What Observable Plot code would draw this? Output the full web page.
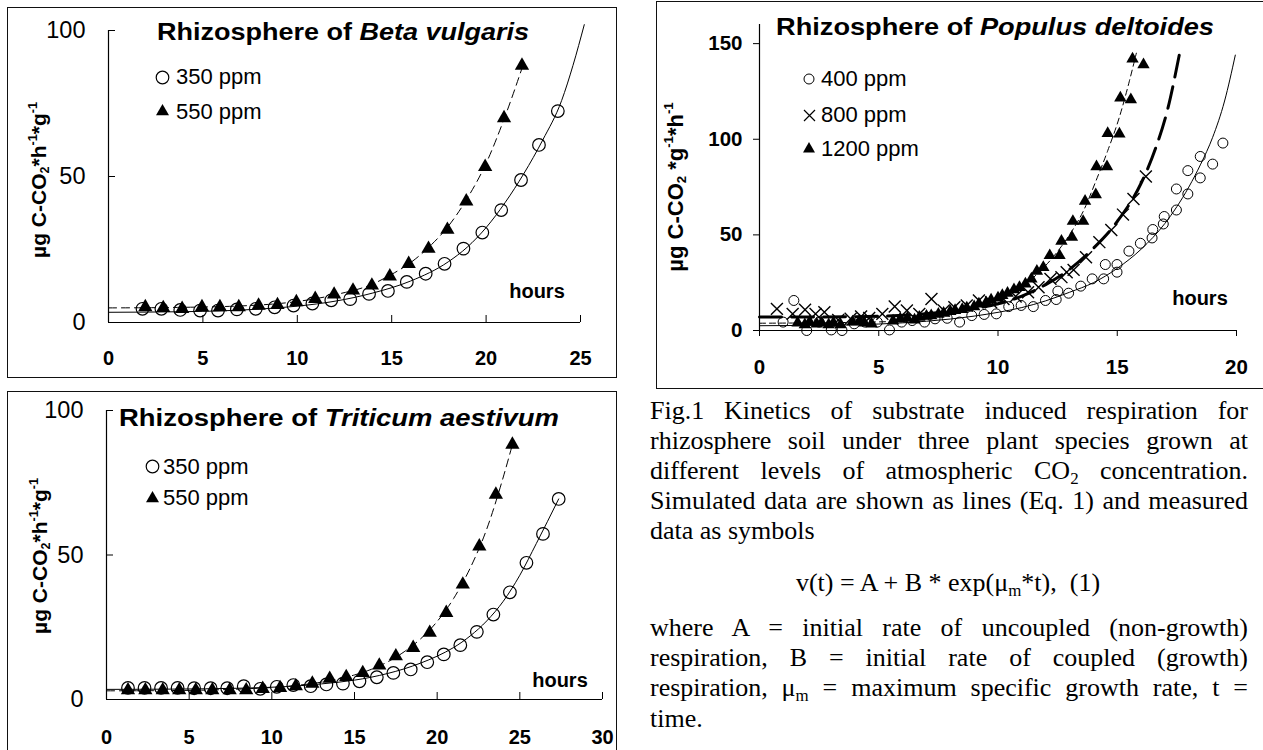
<!DOCTYPE html>
<html><head><meta charset="utf-8">
<script src="https://cdn.jsdelivr.net/npm/d3@7"></script>
<script src="https://cdn.jsdelivr.net/npm/@observablehq/plot@0.6"></script>
<style>
html,body{margin:0;padding:0;background:#fff;overflow:hidden;}
#page{position:relative;width:1263px;height:750px;overflow:hidden;font-family:"Liberation Sans",Arial,sans-serif;color:#000;}
.box{position:absolute;border:1.5px solid #111;box-sizing:border-box;}
.t{position:absolute;white-space:nowrap;line-height:1;}
.sp{font-size:0.6em;position:relative;top:-0.75em;}
.sb{font-size:0.6em;position:relative;top:0.2em;}
.cap{position:absolute;left:650px;width:598px;font-family:"Liberation Serif","Times New Roman",serif;font-size:26px;line-height:30px;white-space:nowrap;}
.j{text-align:justify;text-align-last:justify;}
.csb{font-size:0.65em;position:relative;top:0.3em;}
</style></head><body><div id="page"></div>
<script>
// ---------- Panel A: Rhizosphere of Beta vulgaris ----------
const betaXTicks = [0,5,10,15,20,25];
const betaYTicks = [0,50,100];
const beta350T = [1.8,2.8,3.8,4.85,5.8,6.8,7.8,8.8,9.8,10.8,11.8,12.8,13.8,14.8,15.8,16.8,17.8,18.8,19.8,20.8,21.85,22.8,23.8];
const beta350V = [4.7,4.7,4.3,4.1,4.1,4.5,4.7,5.2,5.8,6.5,7.6,8.0,9.8,10.8,13.9,16.7,20.1,25.3,30.8,38.5,48.8,60.8,72.4];
const beta550T = [1.95,2.9,3.9,4.95,5.9,6.9,7.95,8.95,9.95,10.95,11.95,12.95,13.95,14.9,15.9,16.95,17.95,18.95,19.95,20.95,21.9];
const beta550V = [5.3,5.0,4.7,5.3,5.3,5.3,5.8,6.0,7.0,8.1,9.6,11.0,12.7,15.8,20.1,25.3,31.8,41.5,53.3,70.0,88.0];
const beta350FitT = [0,4,8,10,12,14,16,18,19,20,21,22,23,24,24.6,25.2];
const beta350FitV = [3.5,3.7,4.6,5.6,7.3,10.1,14.2,20.8,25.8,32.5,41,51,62.5,76,88,102];
const beta550FitT = [0,4,8,10,12,14,15,16,17,18,19,20,21,21.95];
const beta550FitV = [5.0,5.2,6.0,7.2,9.5,13.2,16.5,20.5,26,33,42.5,54.5,70.5,88];

// ---------- Panel B: Rhizosphere of Populus deltoides ----------
const popXTicks = [0,5,10,15,20];
const popYTicks = [0,50,100,150];
const pop400T = [0.99,1.44,1.98,2.5,3.01,3.46,3.97,4.42,4.94,5.45,5.96,6.4,6.92,7.36,7.87,8.39,8.9,9.42,9.93,10.45,10.97,11.48,11.99,12.44,12.51,12.96,13.47,13.95,14.43,14.5,14.99,14.99,15.49,15.97,16.46,16.49,16.93,16.97,17.48,17.48,17.96,17.96,18.48,18.48,19.0,19.43];
const pop400V = [4.4,15.7,0,4.4,0.3,0,3.5,4.4,4.4,0.3,4.4,5.2,4.4,6.1,6.4,4.4,7.8,8.4,8.7,12.5,13.1,12.5,15.7,16.2,20.6,19.5,23.2,27,27,34.5,30.5,34.5,41.5,45.6,48.4,52.8,55.7,59.6,63,74,71.4,83.6,79.8,91,87,98];
const pop800T = [0.73,1.39,1.91,2.35,2.72,3.3,3.82,4.26,4.6,5.15,5.67,6.18,6.7,7.21,7.73,8.17,8.69,9.2,9.71,10.23,10.74,11.26,11.7,12.2,12.66,12.88,13.17,13.69,14.25,14.75,15.24,15.68,16.2];
const pop800V = [11.3,8.7,10.8,8.7,9.6,5.5,6.1,7.3,6.5,8.7,12.5,10.5,8.7,16.5,10.5,12.2,13.1,15.7,14.8,16.5,17.8,20,22.6,27,27.9,30.5,31.7,38.3,46.2,52.6,60.6,68.8,80.5];
const pop1200T = [1.6,1.9,2.1,2.4,2.6,2.9,3.1,3.4,3.9,4.2,4.4,4.7,5.6,5.9,6.2,6.5,6.7,7.0,7.2,7.5,7.72,8.0,8.2,8.5,8.69,9.0,9.2,9.5,9.71,10.0,10.18,10.4,10.67,10.9,11.15,11.4,11.63,11.9,12.17,12.58,12.66,13.1,13.14,13.57,13.65,14.1,14.13,14.57,14.6,15.09,15.13,15.57,15.64,16.1];
const pop1200V = [4,3,4.5,3.5,4,3,4,3,4.5,5,4,3.5,5,6,6.5,5.5,7,7.5,7.8,8.5,9.1,10,10.5,11,11.8,12.5,13.9,14.5,16,17,18.3,19.5,21.3,22.5,24.4,27,31,33,39.2,39.2,46.7,48.8,57.1,57.1,67.6,71,85.7,85.7,103,102.8,121.6,120.7,142,139];
const pop400FitT = [0,4,6,8,10,11,12,13,14,15,16,17,18,18.5,19,19.5,19.95];
const pop400FitV = [2.5,3,4,6,9.5,12,15.5,20,25,32.5,42.5,56,75,87,101,120,144];
const pop800FitT = [0,4,7,9,10,11,12,13,14,15,16,16.6,17.1,17.6];
const pop800FitV = [7,7.2,8.8,11.5,14,18,24,32,43,57,77,95,115,144];
const pop1200FitT = [0,5,7,8,9,10,11,12,12.6,13.1,13.6,14.1,14.6,15.1,15.5,15.8];
const pop1200FitV = [3.8,4.5,6.5,9,12.5,16.5,23,34,43,52,63,78,94,112,130,145];

// ---------- Panel C: Rhizosphere of Triticum aestivum ----------
const tritXTicks = [0,5,10,15,20,25,30];
const tritYTicks = [0,50,100];
const trit350T = [1.3,2.3,3.3,4.3,5.3,6.3,7.3,8.3,9.3,10.3,11.3,12.35,13.3,14.3,15.3,16.35,17.35,18.4,19.4,20.4,21.4,22.4,23.4,24.4,25.4,26.4,27.35];
const trit350V = [4.0,4.0,4.0,4.0,3.9,3.9,3.9,4.6,3.7,4.4,5.0,4.6,5.2,5.5,6.3,7.7,9.2,10.4,12.9,15.6,18.8,23.4,29.4,37.1,47.3,57.3,69.4];
const trit550T = [1.3,2.35,3.4,4.4,5.4,6.4,7.45,8.45,9.45,10.5,11.45,12.45,13.5,14.5,15.5,16.5,17.5,18.55,19.55,20.55,21.55,22.55,23.55,24.55];
const trit550V = [3.2,3.2,3.2,3.2,3.2,3.2,3.2,3.2,3.7,4.0,4.6,5.5,7.2,7.8,9.2,11.8,15.0,17.9,23.1,30.0,39.8,53.0,70.9,88.2];
const trit350FitT = [0,4,8,11,13,15,16,17,18,19,20,21,22,23,24,25,26,27.35];
const trit350FitV = [3.5,3.6,3.9,4.5,5.4,6.7,7.7,9.0,10.6,12.6,15.0,18.0,22.0,27.2,34,43,54,69.4];
const trit550FitT = [0,4,8,11,13,15,16,17,18,19,20,21,22,23,24,24.55];
const trit550FitV = [3.0,3.1,3.6,4.6,6.0,8.5,10.4,13.0,16.5,21,27,35,45.5,59,77,88.2];

const rows = (ts, vs) => ts.map((t, i) => ({t, v: vs[i]}));
const page = document.getElementById("page");
const FONT = "Liberation Sans, Arial, sans-serif";
const baseStyle = {background: "transparent", overflow: "visible", fontFamily: FONT, color: "#000"};

function box(l, t, w, h) {
  const d = document.createElement("div"); d.className = "box";
  Object.assign(d.style, {left: l + "px", top: t + "px", width: w + "px", height: h + "px"});
  page.appendChild(d);
}
function place(svg, l, t) {
  svg.style.position = "absolute"; svg.style.left = l + "px"; svg.style.top = t + "px";
  page.appendChild(svg);
}
function txt(html, x, yc, size, opts = {}) {
  const d = document.createElement("div"); d.className = "t"; d.innerHTML = html;
  d.style.fontSize = size + "px"; d.style.fontWeight = opts.weight || "normal";
  d.style.left = x + "px"; d.style.top = (yc - 0.5 * size) + "px";
  if (opts.anchor === "middle") d.style.transform = "translateX(-50%)";
  if (opts.rotate) { d.style.top = yc + "px"; d.style.transform = "translate(-50%,-50%) rotate(-90deg)"; }
  page.appendChild(d);
  if (opts.fitWidth) {
    const w = d.getBoundingClientRect().width;
    d.style.transformOrigin = "left center";
    d.style.transform = `scaleX(${opts.fitWidth / w})`;
  }
  return d;
}
function icon(kind, cx, cy, r, sw = 1.2) {
  const n = Math.ceil(2 * r + 6), c = n / 2;
  let inner = "";
  if (kind === "circle") inner = `<circle cx="${c}" cy="${c}" r="${r}" fill="none" stroke="#000" stroke-width="${sw}"/>`;
  if (kind === "triangle") { const h = r * Math.sqrt(3); inner = `<polygon points="${c},${c - 2*h/3} ${c - r},${c + h/3} ${c + r},${c + h/3}" fill="#000"/>`; }
  if (kind === "times") inner = `<path d="M${c-r},${c-r}L${c+r},${c+r}M${c-r},${c+r}L${c+r},${c-r}" stroke="#000" stroke-width="${sw}"/>`;
  const d = document.createElement("div");
  d.style.position = "absolute"; d.style.left = (cx - c) + "px"; d.style.top = (cy - c) + "px";
  d.innerHTML = `<svg width="${n}" height="${n}" style="display:block">${inner}</svg>`;
  page.appendChild(d);
}

// panel frames
box(6.5, 6.5, 610.5, 371);
box(656, 1, 700, 387.5);
box(6.5, 390.5, 610.5, 400);

// ---------- Panel A ----------
{
  const W = 616, H = 380, mL = 108, mR = 36, mT = 30, mB = 58;
  const iw = W - mL - mR, ih = H - mT - mB;
  const svg = Plot.plot({
    width: W, height: H, marginLeft: mL, marginRight: mR, marginTop: mT, marginBottom: mB,
    x: {domain: [0, 25]}, y: {domain: [0, 100]}, style: baseStyle,
    marks: [
      Plot.ruleX([0], {stroke: "#000", strokeWidth: 1.2}),
      Plot.ruleY([0], {stroke: "#000", strokeWidth: 1.2}),
      Plot.tickY(betaYTicks.filter(d => d > 0), {y: d => d, insetRight: iw - 7, stroke: "#000"}),
      Plot.tickX(betaXTicks.filter(d => d > 0), {x: d => d, insetTop: ih - 7, stroke: "#000"}),
      Plot.axisY({ticks: betaYTicks, tickSize: 0, tickPadding: 23, fontSize: 23.5, label: null}),
      Plot.axisX({ticks: betaXTicks, tickSize: 0, tickPadding: 28, fontSize: 20, fontWeight: "bold", label: null}),
      Plot.line(rows(beta350FitT, beta350FitV), {x: "t", y: "v", curve: "monotone-x", stroke: "#000", strokeWidth: 1}),
      Plot.line(rows(beta550FitT, beta550FitV), {x: "t", y: "v", curve: "monotone-x", stroke: "#000", strokeWidth: 1, strokeDasharray: "8,5"}),
      Plot.dot(rows(beta350T, beta350V), {x: "t", y: "v", r: 6.3, stroke: "#000", fill: "none", strokeWidth: 1.2}),
      Plot.dot(rows(beta550T, beta550V), {x: "t", y: "v", r: 5.3, symbol: "triangle", fill: "#000", stroke: "none"})
    ]
  });
  place(svg, 0, 0);
  txt('Rhizosphere of <i>Beta vulgaris</i>', 157, 32, 23, {weight: "bold", fitWidth: 372});
  icon("circle", 162, 77, 6.3);
  txt('350 ppm', 176, 77, 22);
  icon("triangle", 162, 111, 6.5);
  txt('550 ppm', 176, 111.5, 22);
  txt('hours', 537, 291, 20, {weight: "bold", anchor: "middle"});
  txt('µg C-CO<span class="sb">2</span>*h<span class="sp">-1</span>*g<span class="sp">-1</span>', 38, 180, 21, {weight: "bold", rotate: true});
}

// ---------- Panel B ----------
{
  const W = 606, H = 390, mL = 102, mR = 27, mT = 24, mB = 60;
  const svg = Plot.plot({
    width: W, height: H, marginLeft: mL, marginRight: mR, marginTop: mT, marginBottom: mB,
    x: {domain: [0, 20]}, y: {domain: [0, 160]}, style: baseStyle,
    marks: [
      Plot.ruleX([0], {stroke: "#000", strokeWidth: 1.2}),
      Plot.ruleY([0], {stroke: "#000", strokeWidth: 1.2}),
      Plot.axisY({ticks: popYTicks, tickSize: 6, tickPadding: 11, fontSize: 20.5, fontWeight: "bold", label: null}),
      Plot.axisX({ticks: popXTicks, tickSize: 6, tickPadding: 23, fontSize: 20.5, fontWeight: "bold", label: null}),
      Plot.line(rows(pop400FitT, pop400FitV), {x: "t", y: "v", curve: "monotone-x", stroke: "#000", strokeWidth: 1}),
      Plot.line(rows(pop800FitT, pop800FitV), {x: "t", y: "v", curve: "monotone-x", stroke: "#000", strokeWidth: 3, strokeDasharray: "22,10"}),
      Plot.line(rows(pop1200FitT, pop1200FitV), {x: "t", y: "v", curve: "monotone-x", stroke: "#000", strokeWidth: 1, strokeDasharray: "6,4"}),
      Plot.dot(rows(pop400T, pop400V), {x: "t", y: "v", r: 5, stroke: "#000", fill: "none", strokeWidth: 1}),
      Plot.dot(rows(pop800T, pop800V), {x: "t", y: "v", r: 5.5, symbol: "times", stroke: "#000", strokeWidth: 1.4}),
      Plot.dot(rows(pop1200T, pop1200V), {x: "t", y: "v", r: 4.6, symbol: "triangle", fill: "#000", stroke: "none"})
    ]
  });
  place(svg, 657, 0);
  txt('Rhizosphere of <i>Populus deltoides</i>', 776, 27, 23, {weight: "bold", fitWidth: 438});
  icon("circle", 809, 79, 5, 1);
  txt('400 ppm', 821, 79, 22);
  icon("times", 809, 115, 5.5, 1.2);
  txt('800 ppm', 821, 115, 22);
  icon("triangle", 809, 149, 6);
  txt('1200 ppm', 821, 149, 22);
  txt('hours', 1200, 298, 20, {weight: "bold", anchor: "middle"});
  txt('µg C-CO<span class="sb">2</span> *g<span class="sp">-1</span>*h<span class="sp">-1</span>', 676, 187, 22, {weight: "bold", rotate: true});
}

// ---------- Panel C ----------
{
  const W = 617, H = 360, mL = 106, mR = 15, mT = 20, mB = 51;
  const iw = W - mL - mR, ih = H - mT - mB;
  const svg = Plot.plot({
    width: W, height: H, marginLeft: mL, marginRight: mR, marginTop: mT, marginBottom: mB,
    x: {domain: [0, 30]}, y: {domain: [0, 100]}, style: baseStyle,
    marks: [
      Plot.ruleX([0], {stroke: "#000", strokeWidth: 1.2}),
      Plot.ruleY([0], {stroke: "#000", strokeWidth: 1.2}),
      Plot.tickY(tritYTicks.filter(d => d > 0), {y: d => d, insetRight: iw - 7, stroke: "#000"}),
      Plot.tickX(tritXTicks.filter(d => d > 0), {x: d => d, insetTop: ih - 7, stroke: "#000"}),
      Plot.axisY({ticks: tritYTicks, tickSize: 0, tickPadding: 23, fontSize: 23.5, label: null}),
      Plot.axisX({ticks: tritXTicks, tickSize: 0, tickPadding: 30, fontSize: 20, fontWeight: "bold", label: null}),
      Plot.line(rows(trit350FitT, trit350FitV), {x: "t", y: "v", curve: "monotone-x", stroke: "#000", strokeWidth: 1}),
      Plot.line(rows(trit550FitT, trit550FitV), {x: "t", y: "v", curve: "monotone-x", stroke: "#000", strokeWidth: 1, strokeDasharray: "8,5"}),
      Plot.dot(rows(trit350T, trit350V), {x: "t", y: "v", r: 6.3, stroke: "#000", fill: "none", strokeWidth: 1.2}),
      Plot.dot(rows(trit550T, trit550V), {x: "t", y: "v", r: 5.3, symbol: "triangle", fill: "#000", stroke: "none"})
    ]
  });
  place(svg, 0, 390);
  txt('Rhizosphere of <i>Triticum aestivum</i>', 119, 418, 23, {weight: "bold", fitWidth: 440});
  icon("circle", 152, 466, 6.3);
  txt('350 ppm', 163, 466.5, 22);
  icon("triangle", 152, 498, 6.5);
  txt('550 ppm', 163, 498, 22);
  txt('hours', 560, 680, 20, {weight: "bold", anchor: "middle"});
  txt('µg C-CO<span class="sb">2</span>*h<span class="sp">-1</span>*g<span class="sp">-1</span>', 39, 556, 21, {weight: "bold", rotate: true});
}

// ---------- Caption ----------
const capLines = [
  {html: 'Fig.1 Kinetics of substrate induced respiration for', y: 411, j: true},
  {html: 'rhizosphere soil under three plant species grown at', y: 441, j: true},
  {html: 'different levels of atmospheric CO<span class="csb">2</span> concentration.', y: 471, j: true},
  {html: 'Simulated data are shown as lines (Eq. 1) and measured', y: 501, j: true},
  {html: 'data as symbols', y: 531, j: false},
  {html: 'where A = initial rate of uncoupled (non-growth)', y: 628, j: true},
  {html: 'respiration, B = initial rate of coupled (growth)', y: 658, j: true},
  {html: 'respiration, μ<span class="csb">m</span> = maximum specific growth rate, t =', y: 688, j: true},
  {html: 'time.', y: 719, j: false}
];
for (const l of capLines) {
  const d = document.createElement("div");
  d.className = "cap" + (l.j ? " j" : "");
  if (l.j) d.style.whiteSpace = "normal";
  d.style.top = (l.y - 15) + "px";
  d.innerHTML = l.html;
  page.appendChild(d);
}
{
  const d = document.createElement("div");
  d.className = "cap"; d.style.textAlign = "center"; d.style.left = "648px"; d.style.width = "600px";
  d.style.top = (583 - 15) + "px";
  d.innerHTML = 'v(t) = A + B * exp(μ<span class="csb">m</span>*t),&nbsp; (1)';
  page.appendChild(d);
}
</script>
</body></html>
